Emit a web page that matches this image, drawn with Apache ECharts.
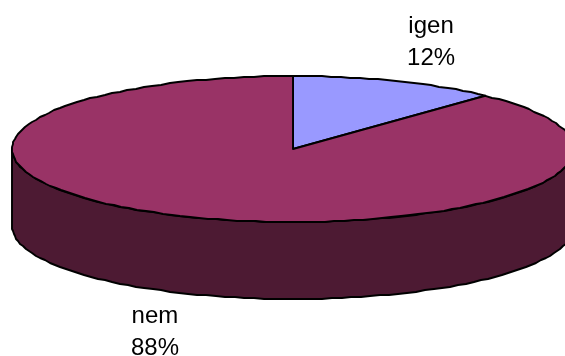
<!DOCTYPE html>
<html>
<head>
<meta charset="utf-8">
<style>html,body{margin:0;padding:0;background:#fff}#chart{width:565px;height:356px}</style>
<script src="https://cdn.jsdelivr.net/npm/echarts@6/dist/echarts.min.js"></script>
</head>
<body>
<div id="chart"></div>
<script>
// Answer shares for the tilted pie.
const categories = ['igen', 'nem'];
const shares = [12, 88];
const topColors = ['#9999FF', '#993366'];
const sideColors = ['#4D4D80', '#4D1A33'];

// Tilted disc geometry, in pixels.
const disc = { cx: 293, cy: 149, rx: 281, ry: 73, depth: 77 };
// Label distance from the disc centre along each slice's middle angle.
const labelReach = { x: 375, y: 115, lineHeight: 32, fontSize: 24 };

const total = shares.reduce((a, b) => a + b, 0);
const TAU = Math.PI * 2;

// Angles run clockwise from the top of the disc.
function rimPoint(angle, drop) {
  return [
    disc.cx + disc.rx * Math.sin(angle),
    disc.cy - disc.ry * Math.cos(angle) + drop
  ];
}

// The rim is a short-segment polyline on whole pixels, like a metafile outline.
function arcPoints(from, to, drop) {
  const steps = Math.max(2, Math.ceil((to - from) / 0.035));
  const pts = [];
  for (let i = 0; i <= steps; i++) {
    const p = rimPoint(from + (to - from) * i / steps, drop);
    pts.push(i === 0 || i === steps ? p : [Math.round(p[0]), Math.round(p[1])]);
  }
  return pts;
}

function renderSlice(params, api) {
  const i = params.dataIndex;
  const before = shares.slice(0, i).reduce((a, b) => a + b, 0);
  const start = before / total * TAU;
  const end = start + api.value(1) / total * TAU;
  const mid = (start + end) / 2;
  const line = { stroke: '#000', lineWidth: 1.9, lineJoin: 'round' };
  const children = [];

  // The wall shows only along the near half of the rim.
  const wallFrom = Math.max(start, Math.PI / 2);
  const wallTo = Math.min(end, Math.PI * 1.5);
  if (wallTo > wallFrom) {
    const outline = arcPoints(wallFrom, wallTo, 0)
      .concat(arcPoints(wallFrom, wallTo, disc.depth).reverse());
    children.push({
      type: 'polygon',
      shape: { points: outline },
      style: Object.assign({ fill: sideColors[i] }, line)
    });
  }

  children.push({
    type: 'polygon',
    shape: { points: [[disc.cx, disc.cy]].concat(arcPoints(start, end, 0)) },
    style: Object.assign({ fill: topColors[i] }, line)
  });

  // Slices on the near side sit their label below the wall.
  const near = Math.cos(mid) < 0;
  children.push({
    type: 'text',
    style: {
      x: disc.cx + labelReach.x * Math.sin(mid),
      y: disc.cy - labelReach.y * Math.cos(mid) + (near ? disc.depth - 1 : 0),
      text: categories[i] + '\n' + Math.round(api.value(1) / total * 100) + '%',
      fill: '#000',
      font: labelReach.fontSize + 'px "Liberation Sans", Arial, sans-serif',
      lineHeight: labelReach.lineHeight,
      align: 'center',
      verticalAlign: 'middle'
    }
  });

  return { type: 'group', children };
}

const chart = echarts.init(document.getElementById('chart'), null, { renderer: 'canvas' });
chart.setOption({
  animation: false,
  backgroundColor: '#fff',
  series: [{
    type: 'custom',
    coordinateSystem: 'none',
    renderItem: renderSlice,
    data: categories.map((name, i) => [i, shares[i]])
  }]
});
</script>
</body>
</html>
